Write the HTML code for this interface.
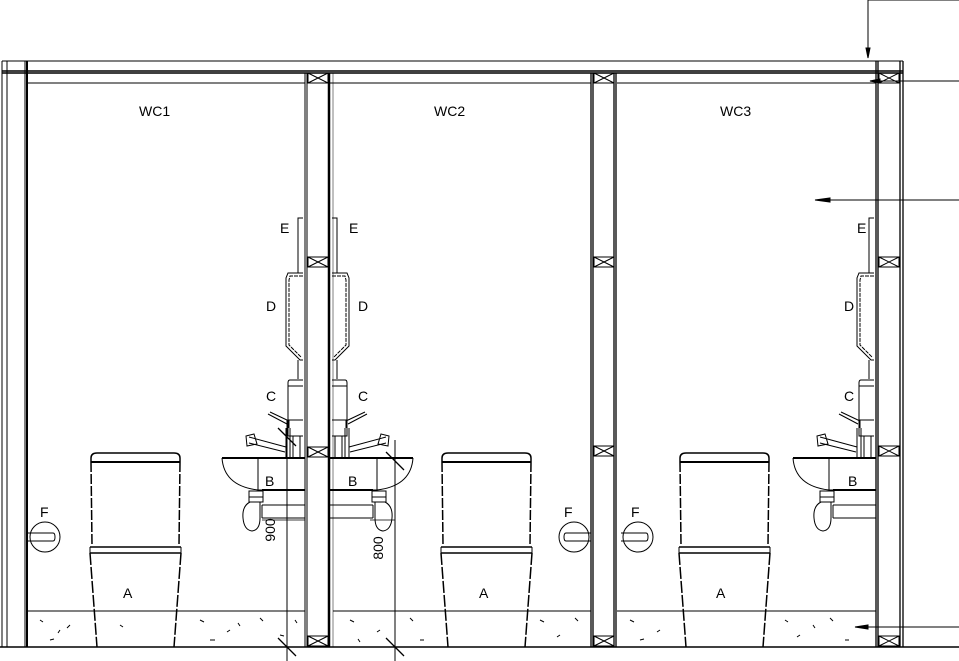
<!DOCTYPE html>
<html><head><meta charset="utf-8"><style>
html,body{margin:0;padding:0;background:#fff;}
svg{display:block;}
text{font-family:"Liberation Sans",sans-serif;font-size:14px;fill:#000;}
</style></head><body>
<svg width="959" height="661" viewBox="0 0 959 661" xmlns="http://www.w3.org/2000/svg" stroke="#000" fill="none" stroke-width="1">
<defs>
<g id="xbox"><rect x="0" y="0" width="20" height="10"/><path d="M0 0L20 10M20 0L0 10"/></g>
<g id="toilet">
<path d="M91 462 L91 458 Q91 453 97 453 L174 453 Q180 453 180 458 L180 462" stroke-width="1.5"/>
<path d="M91 462 L180 462" stroke-width="2"/>
<path d="M91 462 L92 545 M180 462 L179 545" stroke-dasharray="10 2" stroke-width="1.5"/>
<path d="M90 547 L181 547 M90 553 L181 553" stroke-width="1.5"/>
<path d="M90 547 L90 553 M181 547 L181 553"/>
<path d="M90 553 L97 647 M181 553 L174 647" stroke-dasharray="12 2" stroke-width="1.5"/>
</g>
<g id="fix">
<!-- E bracket -->
<path d="M298 273 L298 218 L303 218"/>
<!-- D dryer -->
<path d="M303 273 L288 273 L286 278 L286 346 L300 360 L303 360"/>
<path d="M303 276 L290 276 L289 280 L289 345 L301 357" stroke-dasharray="4 1"/>
<path d="M298 360 L298 379"/>
<!-- C dispenser -->
<path d="M303 380 L290 380 Q288 380 288 383 L288 436 L303 436"/>
<path d="M288 386 L303 386 M288 420 L303 420"/>
<path d="M293 436 L293 458 M300 436 L300 458"/>
<!-- lever tap -->
<path d="M270 412 L289 421 L289 428 M268 414 L287 424"/>
<path d="M286 428 L286 458 M290 428 L290 458"/>
<path d="M249 437 L286 447 M249 443 L285 452 M246 436 L254 434 L257 444 L247 446 Z"/>
<!-- sink -->
<path d="M222 458 L305 458" stroke-width="2"/>
<path d="M222 458 Q224 486 258 490 L305 490"/>
<path d="M258 458 L258 490"/>
<path d="M262 490 L305 490" stroke-width="2"/>
<path d="M262 505 L305 505 M262 518 L305 518 M262 505 L262 518"/>
<!-- trap -->
<rect x="249" y="491" width="14" height="6"/>
<rect x="249" y="497" width="14" height="5"/>
<path d="M250 502 Q242 506 243 518 Q244 530 252 531 Q260 530 260 518 L260 502"/>
</g>
<g id="rail"><circle cx="0" cy="0" r="15"/><path d="M-17 -4 L8 -4 Q10 -4 10 0 Q10 4 8 4 L-17 4"/></g>
</defs>

<!-- top structure -->
<path d="M2 61 L903 61"/>
<path d="M2 71 L903 71 M2 73 L903 73" stroke-width="1.5"/>
<path d="M27 83 L305 83 M330 83 L591 83 M617 83 L876 83"/>
<!-- left wall -->
<path d="M2 61 L2 647 M7 61 L7 647 M25 61 L25 647"/>
<path d="M27 61 L27 647" stroke-width="2"/>
<!-- partition 1 -->
<path d="M305 73 L305 647 M307 73 L307 647"/>
<path d="M329 73 L329 647" stroke-width="2.5"/>
<path d="M333 73 L333 647" stroke-width="0.5"/>
<use href="#xbox" x="308" y="73"/>
<use href="#xbox" x="308" y="257"/>
<use href="#xbox" x="308" y="447"/>
<use href="#xbox" x="308" y="636"/>
<!-- partition 2 -->
<path d="M591 73 L591 647 M593 73 L593 647" stroke-width="1.3"/>
<path d="M614 73 L614 647 M616 73 L616 647" stroke-width="1.3"/>
<use href="#xbox" x="594" y="73"/>
<use href="#xbox" x="594" y="257"/>
<use href="#xbox" x="594" y="446"/>
<use href="#xbox" x="594" y="636"/>
<!-- right wall -->
<path d="M876 61 L876 647 M878 61 L878 647" stroke-width="1.3"/>
<path d="M900 61 L900 647 M903 61 L903 647" stroke-width="1.3"/>
<use href="#xbox" x="879" y="73"/>
<use href="#xbox" x="879" y="257"/>
<use href="#xbox" x="879" y="446"/>
<use href="#xbox" x="879" y="636"/>
<!-- floor -->
<path d="M27 611 L305 611 M333 611 L591 611 M617 611 L876 611"/>
<path d="M0 647 L959 647" stroke-width="1.5"/>
<g stroke-width="1">
<path d="M40 620l3 2M70 625l-3 3M50 640l4-1M200 620l4 2M230 630l-3 2M260 618l3 3M210 640l5 0M240 626l-2-3M280 635l4 1M295 620l2 3M350 620l4 2M380 630l-3 2M410 618l3 3M420 640l4 0M360 642l-2-3M540 620l4 2M560 635l-3 2M575 618l3 3M630 620l4 2M660 630l-3 2M640 640l4-1M785 620l3 2M800 635l-3 2M830 618l3 3M845 640l4 0M815 628l-2-3M120 625l3 2M60 630l-2 3"/>
</g>
<!-- toilets -->
<use href="#toilet"/>
<use href="#toilet" x="351"/>
<use href="#toilet" x="589"/>
<!-- fixtures -->
<use href="#fix"/>
<use href="#fix" transform="translate(635,0) scale(-1,1)"/>
<use href="#fix" x="571"/>
<!-- rails -->
<use href="#rail" transform="translate(45,537)"/>
<use href="#rail" transform="translate(574,537) scale(-1,1)"/>
<use href="#rail" transform="translate(638,537)"/>
<!-- dimensions -->
<path d="M287 420 L287 661 M395 440 L395 661"/>
<path d="M278 428 L296 446 M386 452 L404 470 M278 638 L296 656 M386 638 L404 656" stroke-width="1.3"/>
<path d="M262 520 L305 520 M370 520 L395 520" stroke-width="0.8"/>
<!-- leaders -->
<path d="M868 0 L959 0 M868 0 L868 58"/>
<path d="M866 48 L868 58 L870 48 Z" fill="#000"/>
<path d="M870 81 L959 81"/>
<path d="M870 81 L880 79 L880 83 Z" fill="#000"/>
<path d="M815 200 L959 200"/>
<path d="M815 200 L830 198 L830 202 Z" fill="#000"/>
<path d="M855 627 L959 627"/>
<path d="M855 627 L868 625 L868 629 Z" fill="#000"/>
<g stroke="none">
<text x="139" y="116">WC1</text>
<text x="434" y="116">WC2</text>
<text x="720" y="116">WC3</text>
<text x="280" y="233">E</text><text x="349" y="233">E</text><text x="857" y="233">E</text>
<text x="266" y="311">D</text><text x="358" y="311">D</text><text x="844" y="311">D</text>
<text x="266" y="401">C</text><text x="358" y="401">C</text><text x="844" y="401">C</text>
<text x="265" y="486">B</text><text x="348" y="486">B</text><text x="848" y="486">B</text>
<text x="40" y="517">F</text><text x="564" y="517">F</text><text x="631" y="517">F</text>
<text x="123" y="598">A</text><text x="479" y="598">A</text><text x="716" y="598">A</text>
<text transform="translate(275,530) rotate(-90)" text-anchor="middle" font-size="15">900</text>
<text transform="translate(383,548) rotate(-90)" text-anchor="middle" font-size="15">800</text>
</g>
</svg>
</body></html>
